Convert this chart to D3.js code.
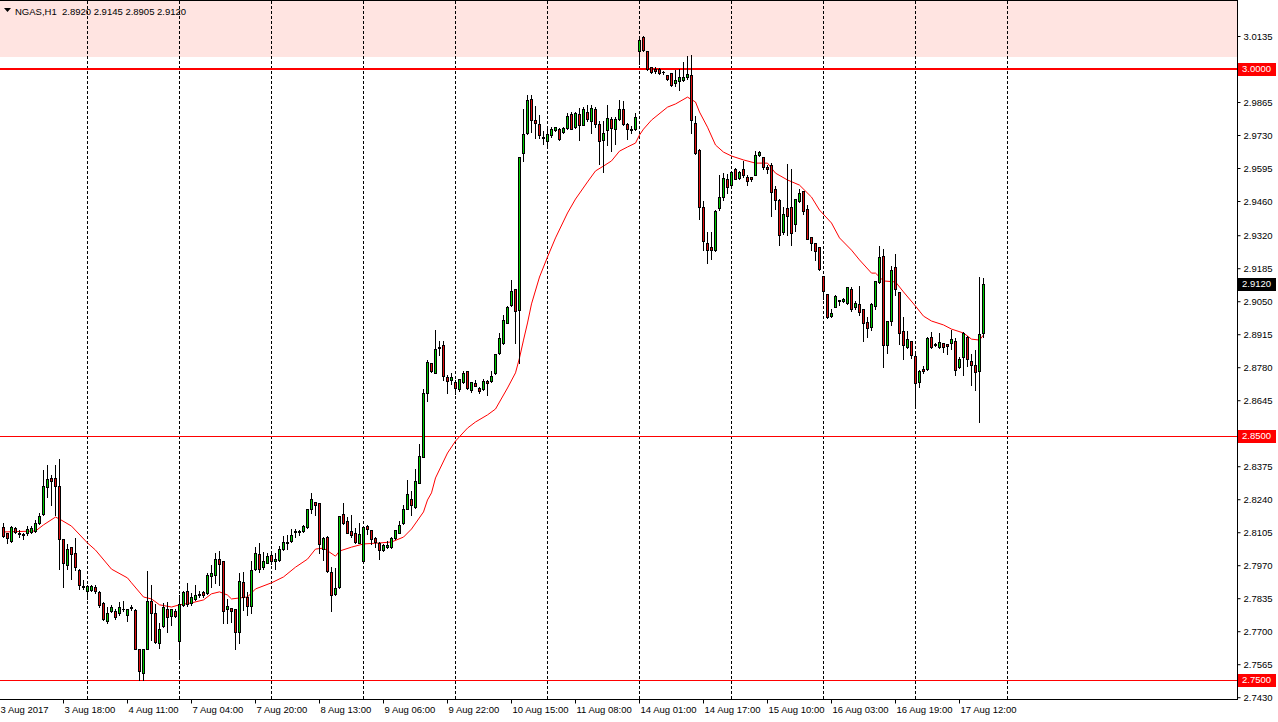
<!DOCTYPE html>
<html><head><meta charset="utf-8">
<script src="https://cdn.jsdelivr.net/npm/d3@7/dist/d3.min.js"></script>
<style>
html,body{margin:0;padding:0;background:#fff;}
svg{display:block;}
text{font-family:"Liberation Sans",Arial,sans-serif;}
</style></head>
<body>
<svg id="c" width="1278" height="722"></svg>
<script>
// ---- DATA (NGAS, H1) ----
const symbol = "NGAS,H1";
const opens = [
2.8126,2.8102,2.8069,2.8122,2.8102,2.8092,2.8102,2.8106,2.8110,2.8143,
2.8180,2.8290,2.8327,2.8327,2.8294,2.8077,2.7971,2.8044,2.8020,2.7950,
2.7885,2.7865,2.7869,2.7881,2.7861,2.7816,2.7742,2.7783,2.7783,2.7775,
2.7792,2.7767,2.7799,2.7787,2.7627,2.7529,2.7627,2.7824,2.7775,2.7652,
2.7721,2.7791,2.7762,2.7783,2.7660,2.7808,2.7865,2.7816,2.7832,2.7850,
2.7861,2.7857,2.7926,2.7930,2.7995,2.7987,2.7791,2.7795,2.7791,2.7697,
2.7902,2.7840,2.7803,2.7954,2.8016,2.7962,2.7979,2.8012,2.7987,2.7991,
2.8036,2.8065,2.8069,2.8104,2.8106,2.8110,2.8126,2.8200,2.8229,2.8225,
2.8036,2.8085,2.7942,2.7853,2.7881,2.8180,2.8151,2.8110,2.8102,2.8061,
2.7987,2.8130,2.8114,2.8081,2.8061,2.8032,2.8044,2.8044,2.8081,2.8102,
2.8143,2.8200,2.8241,2.8208,2.8307,2.8413,2.8675,2.8798,2.8757,2.8857,
2.8871,2.8740,2.8728,2.8720,2.8691,2.8720,2.8765,2.8687,2.8716,2.8695,
2.8691,2.8724,2.8724,2.8757,2.8838,2.8879,2.8961,2.9035,2.9100,2.9014,
2.9656,2.9738,2.9877,2.9791,2.9775,2.9722,2.9705,2.9730,2.9750,2.9754,
2.9742,2.9759,2.9816,2.9763,2.9816,2.9771,2.9824,2.9787,2.9836,2.9775,
2.9709,2.9750,2.9795,2.9754,2.9795,2.9836,2.9775,2.9756,2.9754,3.0073,
3.0131,3.0073,3.0008,3.0000,3.0000,2.9988,2.9975,2.9983,2.9942,2.9951,
2.9955,2.9967,2.9975,2.9779,2.9668,2.9435,2.9288,2.9272,2.9259,2.9431,
2.9476,2.9550,2.9525,2.9591,2.9554,2.9591,2.9558,2.9558,2.9566,2.9648,
2.9640,2.9599,2.9607,2.9509,2.9464,2.9333,2.9431,2.9435,2.9366,2.9460,
2.9501,2.9427,2.9313,2.9288,2.9272,2.9153,2.9080,2.8990,2.9026,2.9051,
2.9051,2.9043,2.9100,2.9026,2.9039,2.9018,2.8965,2.8944,2.9030,2.9129,
2.9235,2.8871,2.8969,2.9190,2.9088,2.8928,2.8863,2.8887,2.8826,2.8720,
2.8773,2.8773,2.8904,2.8875,2.8863,2.8879,2.8875,2.8879,2.8887,2.8781,
2.8822,2.8904,2.8805,2.8789,2.8765,2.8920];
const highs = [
2.8143,2.8102,2.8130,2.8126,2.8114,2.8102,2.8130,2.8130,2.8155,2.8184,
2.8360,2.8380,2.8339,2.8380,2.8405,2.8077,2.8057,2.8044,2.8081,2.7954,
2.7910,2.7889,2.7889,2.7889,2.7865,2.7820,2.7799,2.7808,2.7791,2.7820,
2.7824,2.7791,2.7808,2.7791,2.7627,2.7627,2.7946,2.7889,2.7812,2.7734,
2.7816,2.7820,2.7791,2.7791,2.7848,2.7865,2.7898,2.7857,2.7889,2.7865,
2.7865,2.7938,2.7971,2.8020,2.8028,2.7987,2.7832,2.7795,2.7791,2.7938,
2.7942,2.7861,2.7987,2.8044,2.8061,2.8024,2.8020,2.8028,2.8020,2.8048,
2.8089,2.8094,2.8118,2.8118,2.8114,2.8135,2.8200,2.8266,2.8229,2.8225,
2.8085,2.8089,2.7962,2.7958,2.8171,2.8225,2.8167,2.8176,2.8122,2.8143,
2.8130,2.8135,2.8114,2.8085,2.8065,2.8057,2.8069,2.8085,2.8114,2.8151,
2.8217,2.8319,2.8274,2.8364,2.8466,2.8691,2.8810,2.8798,2.8932,2.8887,
2.8887,2.8748,2.8757,2.8728,2.8732,2.8765,2.8765,2.8720,2.8728,2.8699,
2.8732,2.8728,2.8765,2.8834,2.8920,2.8994,2.9030,2.9137,2.9100,2.9640,
2.9836,2.9893,2.9893,2.9848,2.9812,2.9746,2.9763,2.9763,2.9763,2.9759,
2.9763,2.9820,2.9824,2.9824,2.9840,2.9844,2.9852,2.9852,2.9844,2.9787,
2.9787,2.9852,2.9804,2.9804,2.9873,2.9869,2.9779,2.9767,2.9820,3.0127,
3.0135,3.0073,3.0008,3.0008,3.0004,2.9992,2.9975,2.9983,2.9996,3.0000,
3.0028,3.0053,3.0057,2.9807,2.9672,2.9460,2.9333,2.9333,2.9423,2.9566,
2.9575,2.9570,2.9579,2.9595,2.9583,2.9624,2.9566,2.9558,2.9664,2.9664,
2.9640,2.9607,2.9615,2.9521,2.9468,2.9435,2.9611,2.9591,2.9468,2.9509,
2.9501,2.9444,2.9313,2.9288,2.9272,2.9153,2.9080,2.9018,2.9075,2.9055,
2.9063,2.9108,2.9108,2.9051,2.9112,2.9018,2.8985,2.9043,2.9133,2.9276,
2.9264,2.8969,2.9194,2.9243,2.9088,2.8985,2.8928,2.8887,2.8834,2.8769,
2.8785,2.8904,2.8924,2.8879,2.8920,2.8879,2.8875,2.8932,2.8900,2.8822,
2.8924,2.8908,2.8834,2.8850,2.9149,2.9145];
const lows = [
2.8085,2.8061,2.8065,2.8102,2.8085,2.8077,2.8094,2.8102,2.8106,2.8139,
2.8176,2.8249,2.8217,2.8176,2.7954,2.7881,2.7954,2.7914,2.7950,2.7873,
2.7873,2.7832,2.7865,2.7857,2.7799,2.7746,2.7734,2.7779,2.7750,2.7767,
2.7783,2.7742,2.7787,2.7627,2.7500,2.7500,2.7627,2.7664,2.7652,2.7631,
2.7717,2.7697,2.7725,2.7758,2.7586,2.7803,2.7803,2.7808,2.7828,2.7840,
2.7840,2.7853,2.7881,2.7898,2.7889,2.7734,2.7734,2.7738,2.7627,2.7652,
2.7787,2.7767,2.7775,2.7950,2.7942,2.7954,2.7979,2.7975,2.7954,2.7987,
2.8032,2.8036,2.8065,2.8085,2.8094,2.8106,2.8122,2.8184,2.8176,2.8020,
2.7991,2.7942,2.7783,2.7848,2.7877,2.8139,2.8102,2.8085,2.8061,2.8061,
2.7987,2.8098,2.8057,2.8044,2.7995,2.8028,2.8040,2.8040,2.8077,2.8102,
2.8139,2.8200,2.8176,2.8204,2.8307,2.8413,2.8642,2.8761,2.8757,2.8830,
2.8728,2.8675,2.8712,2.8671,2.8683,2.8716,2.8691,2.8679,2.8704,2.8675,
2.8687,2.8666,2.8720,2.8753,2.8834,2.8875,2.8961,2.9030,2.8879,2.8797,
2.9624,2.9734,2.9742,2.9718,2.9718,2.9693,2.9689,2.9722,2.9746,2.9709,
2.9738,2.9754,2.9754,2.9759,2.9709,2.9771,2.9787,2.9738,2.9763,2.9611,
2.9578,2.9689,2.9664,2.9693,2.9791,2.9771,2.9713,2.9738,2.9750,3.0020,
3.0073,2.9996,2.9983,2.9983,2.9979,2.9979,2.9955,2.9930,2.9930,2.9914,
2.9951,2.9959,2.9738,2.9652,2.9386,2.9259,2.9206,2.9223,2.9255,2.9423,
2.9464,2.9493,2.9521,2.9550,2.9550,2.9558,2.9525,2.9542,2.9566,2.9644,
2.9591,2.9574,2.9398,2.9427,2.9280,2.9325,2.9321,2.9280,2.9337,2.9456,
2.9407,2.9304,2.9259,2.9219,2.9178,2.9059,2.8981,2.8986,2.9026,2.9034,
2.9047,2.9039,2.9010,2.9018,2.8994,2.8887,2.8903,2.8932,2.9018,2.9125,
2.8781,2.8838,2.8953,2.9075,2.8875,2.8814,2.8858,2.8818,2.8617,2.8699,
2.8757,2.8769,2.8858,2.8867,2.8858,2.8842,2.8834,2.8855,2.8748,2.8777,
2.8748,2.8785,2.8707,2.8687,2.8556,2.8905];
const closes = [
2.8089,2.8081,2.8126,2.8106,2.8098,2.8096,2.8118,2.8122,2.8143,2.8171,
2.8294,2.8323,2.8315,2.8294,2.8077,2.7979,2.8036,2.8016,2.7962,2.7889,
2.7881,2.7885,2.7885,2.7865,2.7808,2.7750,2.7775,2.7799,2.7758,2.7799,
2.7789,2.7791,2.7795,2.7627,2.7537,2.7627,2.7824,2.7775,2.7656,2.7709,
2.7799,2.7758,2.7791,2.7762,2.7812,2.7861,2.7812,2.7840,2.7848,2.7853,
2.7848,2.7930,2.7938,2.7995,2.7975,2.7783,2.7803,2.7783,2.7697,2.7906,
2.7840,2.7803,2.7950,2.8020,2.7954,2.7987,2.8007,2.7987,2.7995,2.8036,
2.8065,2.8061,2.8094,2.8108,2.8110,2.8130,2.8200,2.8241,2.8217,2.8057,
2.8081,2.7946,2.7848,2.7877,2.8171,2.8143,2.8102,2.8094,2.8065,2.8098,
2.8126,2.8118,2.8077,2.8065,2.8032,2.8052,2.8052,2.8081,2.8114,2.8135,
2.8200,2.8262,2.8217,2.8315,2.8417,2.8675,2.8802,2.8765,2.8855,2.8861,
2.8744,2.8724,2.8740,2.8695,2.8732,2.8757,2.8695,2.8720,2.8704,2.8683,
2.8724,2.8716,2.8744,2.8834,2.8900,2.8973,2.9026,2.9092,2.9010,2.9640,
2.9734,2.9873,2.9791,2.9779,2.9730,2.9718,2.9734,2.9754,2.9763,2.9713,
2.9759,2.9808,2.9754,2.9820,2.9771,2.9836,2.9795,2.9840,2.9775,2.9705,
2.9738,2.9800,2.9759,2.9795,2.9836,2.9775,2.9754,2.9752,2.9804,3.0118,
3.0077,3.0000,2.9987,2.9992,2.9983,2.9987,2.9959,2.9934,2.9955,2.9967,
2.9967,2.9979,2.9791,2.9656,2.9435,2.9296,2.9259,2.9259,2.9419,2.9476,
2.9554,2.9517,2.9579,2.9550,2.9579,2.9566,2.9542,2.9550,2.9648,2.9660,
2.9599,2.9591,2.9497,2.9464,2.9321,2.9407,2.9398,2.9329,2.9468,2.9493,
2.9419,2.9304,2.9288,2.9255,2.9182,2.9092,2.8985,2.9002,2.9071,2.9055,
2.9059,2.9108,2.9018,2.9043,2.9006,2.8961,2.8940,2.9039,2.9133,2.9231,
2.8871,2.8969,2.9178,2.9100,2.8920,2.8871,2.8895,2.8830,2.8715,2.8765,
2.8765,2.8900,2.8863,2.8871,2.8883,2.8863,2.8867,2.8896,2.8769,2.8814,
2.8920,2.8814,2.8789,2.8761,2.8916,2.9120];

// moving average (red line), read at bar positions
const maIdx = [0,8,10,13,14,17,21,23,27,31,32,35,37,39,42,44,47,50,52,54,56,57,61,63,67,70,73,76,78,80,83,84,87,90,94,97,100,102,105,106,107,108,111,113,116,118,121,123,126,128,129,130,131,132,134,136,138,141,143,146,148,150,152,154,156,158,159,160,162,166,168,171,173,174,176,178,180,182,185,188,191,193,196,199,202,204,207,209,212,214,217,218,220,223,225,228,230,232,235,237,240,242,244,245];
const maVal = [2.8106,2.8110,2.8135,2.8167,2.8159,2.8130,2.8061,2.8032,2.7954,2.7918,2.7898,2.7840,2.7832,2.7808,2.7799,2.7808,2.7816,2.7828,2.7853,2.7861,2.7848,2.7832,2.7840,2.7873,2.7898,2.7922,2.7962,2.7995,2.8036,2.8040,2.8007,2.8028,2.8044,2.8057,2.8061,2.8065,2.8085,2.8118,2.8188,2.8237,2.8266,2.8327,2.8429,2.8478,2.8531,2.8556,2.8585,2.8609,2.8695,2.8757,2.8818,2.8891,2.8961,2.9039,2.9149,2.9231,2.9309,2.9411,2.9468,2.9538,2.9583,2.9603,2.9624,2.9664,2.9681,2.9697,2.9730,2.9754,2.9791,2.9844,2.9857,2.9885,2.9865,2.9824,2.9762,2.9689,2.9660,2.9644,2.9628,2.9615,2.9615,2.9574,2.9546,2.9525,2.9476,2.9423,2.9370,2.9309,2.9259,2.9219,2.9165,2.9165,2.9133,2.9129,2.9088,2.9030,2.8989,2.8969,2.8953,2.8936,2.8920,2.8895,2.8891,2.8912];

// horizontal levels and zone
const levelPrices = [3.0000, 2.8500, 2.7500];
const levelWidths = [2, 1, 1];
const zoneLow = 3.0050;

// price axis tick labels
const priceTicks = [3.0135,2.9865,2.9730,2.9595,2.9460,2.9320,2.9185,2.9050,2.8915,2.8780,2.8645,2.8375,2.8240,2.8105,2.7970,2.7835,2.7700,2.7565,2.7430];
// time axis labels (bar index where each label sits)
const timeIdx = [-1,15,31,47,63,79,95,111,127,143,159,175,191,207,223,239];
const timeLabels = ["3 Aug 2017","3 Aug 18:00","4 Aug 11:00","7 Aug 04:00","7 Aug 20:00","8 Aug 13:00","9 Aug 06:00","9 Aug 22:00","10 Aug 15:00","11 Aug 08:00","14 Aug 01:00","14 Aug 17:00","15 Aug 10:00","16 Aug 03:00","16 Aug 19:00","17 Aug 12:00"];
// vertical grid every 23 bars
const gridIdx = [21,44,67,90,113,136,159,182,205,228,251];

// ---- DRAWING ----
const W = 1278, H = 722;
const plotR = 1237, plotB = 699;
const svg = d3.select("#c");
const n = opens.length;
const x = d3.scaleLinear().domain([0, n - 1]).range([3, 3 + 4 * (n - 1)]);
const y = d3.scaleLinear().domain([2.74227, 3.02823]).range([plotB, 0]);
const FONT = "9.5px";
const upCol = "#00cc00", dnCol = "#e01010";

svg.append("rect").attr("width", W).attr("height", H).attr("fill", "#fff");
// zone
svg.append("rect").attr("x", 0).attr("y", 0).attr("width", plotR).attr("height", Math.round(y(zoneLow)))
  .attr("fill", "#ffe4e1");

// grid
svg.append("g").selectAll("line").data(gridIdx).join("line")
  .attr("x1", d => Math.round(x(d)) + 0.5).attr("x2", d => Math.round(x(d)) + 0.5)
  .attr("y1", 1).attr("y2", plotB)
  .attr("stroke", "#000").attr("stroke-width", 1).attr("stroke-dasharray", "3,2");

// levels
svg.append("g").selectAll("line").data(levelPrices).join("line")
  .attr("x1", 0).attr("x2", plotR)
  .attr("y1", (d, i) => Math.round(y(d)) + (levelWidths[i] === 1 ? 0.5 : 0))
  .attr("y2", (d, i) => Math.round(y(d)) + (levelWidths[i] === 1 ? 0.5 : 0))
  .attr("stroke", "#ff0000").attr("stroke-width", (d, i) => levelWidths[i]);

// moving average
const maPts = maIdx.map((d, i) => [d, maVal[i]]);
svg.append("path").datum(maPts)
  .attr("d", d3.line().x(d => x(d[0]) + 0.5).y(d => y(d[1])))
  .attr("fill", "none").attr("stroke", "#ff0000").attr("stroke-width", 1);

// candles
const bars = d3.range(n).map(i => ({i, o: opens[i], h: highs[i], l: lows[i], c: closes[i]}));
const g = svg.append("g").attr("shape-rendering", "crispEdges");
g.selectAll("rect.w").data(bars).join("rect").attr("class", "w")
  .attr("x", d => Math.round(x(d.i)))
  .attr("y", d => Math.round(y(d.h)))
  .attr("width", 1)
  .attr("height", d => Math.max(1, Math.round(y(d.l)) - Math.round(y(d.h)) + 1))
  .attr("fill", "#000");
g.selectAll("rect.b").data(bars).join("rect").attr("class", "b")
  .attr("x", d => Math.round(x(d.i)) - 1)
  .attr("y", d => Math.round(y(Math.max(d.o, d.c))))
  .attr("width", 3)
  .attr("height", d => Math.max(1, Math.round(y(Math.min(d.o, d.c))) - Math.round(y(Math.max(d.o, d.c))) + 1))
  .attr("fill", "#000");
g.selectAll("rect.f").data(bars.filter(d => Math.round(y(Math.min(d.o, d.c))) - Math.round(y(Math.max(d.o, d.c))) >= 2))
  .join("rect").attr("class", "f")
  .attr("x", d => Math.round(x(d.i)))
  .attr("y", d => Math.round(y(Math.max(d.o, d.c))) + 1)
  .attr("width", 1)
  .attr("height", d => Math.round(y(Math.min(d.o, d.c))) - Math.round(y(Math.max(d.o, d.c))) - 1)
  .attr("fill", d => d.c >= d.o ? upCol : dnCol);

// frame
svg.append("line").attr("x1", 0).attr("x2", plotR).attr("y1", 0.5).attr("y2", 0.5).attr("stroke", "#000");
svg.append("line").attr("x1", plotR + 0.5).attr("x2", plotR + 0.5).attr("y1", 0).attr("y2", plotB + 1).attr("stroke", "#000");
svg.append("line").attr("x1", 0).attr("x2", plotR + 1).attr("y1", plotB + 0.5).attr("y2", plotB + 0.5).attr("stroke", "#000");

// price axis
const ya = svg.append("g").attr("transform", `translate(${plotR + 0.5},0)`)
  .call(d3.axisRight(y).tickValues(priceTicks).tickFormat(d3.format(".4f")).tickSize(3).tickPadding(3));
ya.select(".domain").remove();
ya.selectAll("text").attr("font-size", FONT).attr("font-family", "Liberation Sans, Arial, sans-serif").attr("fill", "#000");
ya.selectAll("line").attr("stroke", "#000");

// time axis
const xa = svg.append("g").attr("transform", `translate(0,${plotB + 0.5})`)
  .call(d3.axisBottom(x).tickValues(timeIdx).tickFormat((d, i) => timeLabels[i]).tickSize(4).tickPadding(3));
xa.select(".domain").remove();
xa.selectAll("text").attr("text-anchor", "start").attr("dx", "1px").attr("font-size", FONT)
  .attr("font-family", "Liberation Sans, Arial, sans-serif").attr("fill", "#000");
xa.selectAll("line").attr("stroke", "#000");

// level price boxes
const lvl = svg.append("g");
levelPrices.forEach(p => {
  const yy = Math.round(y(p));
  lvl.append("rect").attr("x", plotR + 1).attr("y", yy - 6).attr("width", 38).attr("height", 13).attr("fill", "#ff0000");
  lvl.append("text").attr("x", plotR + 5).attr("y", yy).attr("dy", "0.35em").attr("font-size", FONT)
    .attr("fill", "#fff").text(d3.format(".4f")(p));
});
// current price box
const last = closes[n - 1];
const ly = Math.round(y(last));
lvl.append("rect").attr("x", plotR + 1).attr("y", ly - 6).attr("width", 38).attr("height", 13).attr("fill", "#000");
lvl.append("text").attr("x", plotR + 5).attr("y", ly).attr("dy", "0.35em").attr("font-size", FONT)
  .attr("fill", "#fff").text(d3.format(".4f")(last));

// header
svg.append("path").attr("d", "M4,8 L11,8 L7.5,12 Z").attr("fill", "#000");
const f4 = d3.format(".4f");
svg.append("text").attr("x", 15).attr("y", 14.5).attr("font-size", FONT).attr("fill", "#000")
  .attr("xml:space", "preserve")
  .text(`${symbol}  ${f4(opens[n - 1])} ${f4(highs[n - 1])} ${f4(lows[n - 1])} ${f4(closes[n - 1])}`);
</script>
</body></html>
